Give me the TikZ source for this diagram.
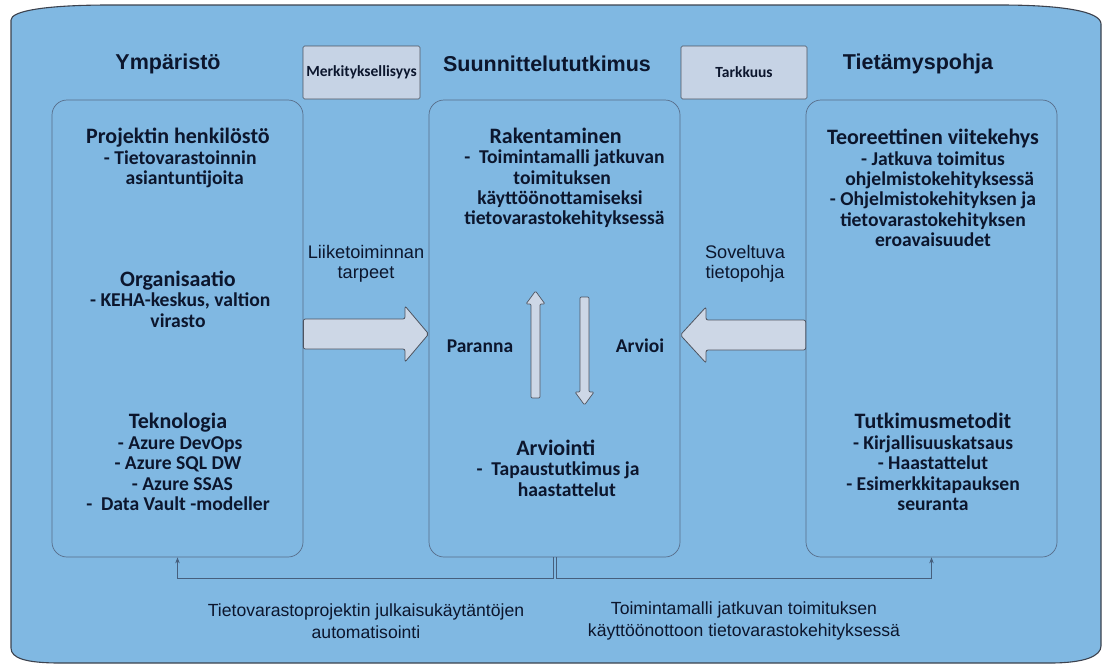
\documentclass[tikz,border=0pt]{standalone}
\usepackage{fontspec}
\setmainfont{Carlito}
\newfontfamily\headfont{Liberation Sans}
\usetikzlibrary{arrows.meta}

\definecolor{bgblue}{RGB}{128,184,226}
\definecolor{panelline}{RGB}{88,110,138}
\definecolor{outline}{RGB}{60,66,78}
\definecolor{tagfill}{RGB}{198,211,229}
\definecolor{arrowfill}{RGB}{205,215,230}
\definecolor{arrowline}{RGB}{78,84,96}
\definecolor{ink}{RGB}{12,22,45}
\definecolor{linkline}{RGB}{70,95,125}

% slightly larger size for the first line of each panel entry
\newcommand\paneltitle[1]{{\fontsize{22}{20.4}\selectfont #1}}

\tikzset{
  panel/.style={draw=panelline, line width=0.7pt, fill=bgblue, rounded corners=15pt,
    minimum width=251pt, minimum height=457pt, inner sep=0pt},
  tagbox/.style={draw=arrowline, line width=0.6pt, fill=tagfill, rounded corners=1.5pt,
    inner sep=0pt, text=ink, font=\bfseries\fontsize{15.5}{17}\selectfont},
  heading/.style={text=ink, inner sep=0pt, font=\headfont\bfseries\fontsize{21.5}{24}\selectfont},
  boxtext/.style={text=ink, inner sep=0pt, align=center, font=\bfseries\fontsize{19.6}{20.4}\selectfont},
  cycletext/.style={text=ink, inner sep=0pt, font=\bfseries\fontsize{19.5}{22}\selectfont},
  flowtext/.style={text=ink, inner sep=0pt, align=center, font=\headfont\fontsize{18.2}{19.5}\selectfont},
  bottomtext/.style={text=ink, inner sep=0pt, align=center, font=\headfont\fontsize{17.6}{22.5}\selectfont},
  blockarrow/.style={draw=arrowline, line width=0.8pt, fill=arrowfill, rounded corners=2pt},
  thinarrow/.style={draw=arrowline, line width=0.7pt, fill=arrowfill, rounded corners=1.2pt},
  link/.style={draw=linkline, line width=0.8pt, -{Stealth[length=6pt,width=4.5pt]}}
}

\begin{document}
\begin{tikzpicture}[x=1pt,y=-1pt]
\useasboundingbox (0,0) rectangle (1105,664);

% outer frame
\draw[draw=outline, line width=1.1pt, fill=bgblue]
  (11,20) .. controls (11,11) and (45,5) .. (110,5)
  -- (1000,5) .. controls (1060,5) and (1101,11) .. (1101,24)
  -- (1101,646) .. controls (1101,656) and (1085,663) .. (1050,663)
  -- (60,663) .. controls (25,663) and (11,658) .. (11,648) -- cycle;

% headings
\node[heading] (hEnv) at (168,64) {Ympäristö};
\node[heading] (hDesign) at (547,64) {Suunnittelututkimus};
\node[heading] (hKnow) at (918,64) {Tietämyspohja};

% tags between headings
\node[tagbox, minimum width=117pt, minimum height=53pt] (tagRel) at (361.5,72.5) {Merkityksellisyys};
\node[tagbox, minimum width=126pt, minimum height=53pt] (tagRig) at (744,72.5) {Tarkkuus};

% three panels
\node[panel] (env) at (177.5,328.5) {};
\node[panel] (design) at (554.5,328.5) {};
\node[panel] (know) at (931.5,328.5) {};

% environment texts
\node[boxtext] (envPeople) at (178,158) {\paneltitle{Projektin henkilöstö}\\\ - Tietovarastoinnin\\\ \ \ asiantuntijoita};
\node[boxtext] (envOrg) at (178,299) {\paneltitle{Organisaatio}\\\ - KEHA-keskus, valtion\\virasto};
\node[boxtext] (envTech) at (178,462) {\paneltitle{Teknologia}\\\ - Azure DevOps\\- Azure SQL DW\\\ \ - Azure SSAS\\-\ \ Data Vault -modeller};

% design texts
\node[boxtext] (desBuild) at (560,178) {\paneltitle{Rakentaminen}\ \ \ \\\ \ -\ \ Toimintamalli jatkuvan\\\ toimituksen\\käyttöönottamiseksi\\\ \ tietovarastokehityksessä};
\node[boxtext] (desEval) at (558,468) {\paneltitle{Arviointi}\ \ \\-\ \ Tapaustutkimus ja\\\ \ \ \ haastattelut};

% knowledge base texts
\node[boxtext] (knowTheory) at (933,188) {\paneltitle{Teoreettinen viitekehys}\\- Jatkuva toimitus\\\ \ \ ohjelmistokehityksessä\\- Ohjelmistokehityksen ja\\tietovarastokehityksen\\eroavaisuudet};
\node[boxtext] (knowMethods) at (933,462) {\paneltitle{Tutkimusmetodit}\\- Kirjallisuuskatsaus\\- Haastattelut\\- Esimerkkitapauksen\\seuranta};

% flow labels
\node[flowtext] (needs) at (366,264) {Liiketoiminnan\\tarpeet};
\node[flowtext] (apply) at (745,264) {Soveltuva\\tietopohja};
\node[cycletext] (improve) at (480,346) {Paranna};
\node[cycletext] (assess) at (640,346) {Arvioi};

% block arrows into the design panel
\draw[blockarrow] (env.east |- 0,319) -- (405,319) -- (405,306) -- (design.west |- 0,334)
  -- (405,362) -- (405,349) -- (env.east |- 0,349) -- cycle;
\draw[blockarrow] (know.west |- 0,320) -- (706,320) -- (706,307) -- (design.east |- 0,335)
  -- (706,363) -- (706,350) -- (know.west |- 0,350) -- cycle;

% improve / assess cycle
\draw[thinarrow] (531,398) -- (531,304) -- (526,304) -- (535.5,291) -- (545,304)
  -- (540,304) -- (540,398) -- cycle;
\draw[thinarrow] (580,297) -- (580,392) -- (575,392) -- (584.5,405) -- (594,392)
  -- (589,392) -- (589,297) -- cycle;

% outcome connectors
\coordinate (busL) at (0,578);
\draw[link] ([xshift=-1.5pt]design.south) -- ([xshift=-1.5pt]design.south |- busL) -| (env.south);
\draw[link] ([xshift=1.5pt]design.south) -- ([xshift=1.5pt]design.south |- busL) -| (know.south);

% outcome labels
\node[bottomtext] (outL) at (366,621) {Tietovarastoprojektin julkaisukäytäntöjen\\automatisointi};
\node[bottomtext] (outR) at (744,621) {Toimintamalli jatkuvan toimituksen\\käyttöönottoon tietovarastokehityksessä};
\end{tikzpicture}
\end{document}
